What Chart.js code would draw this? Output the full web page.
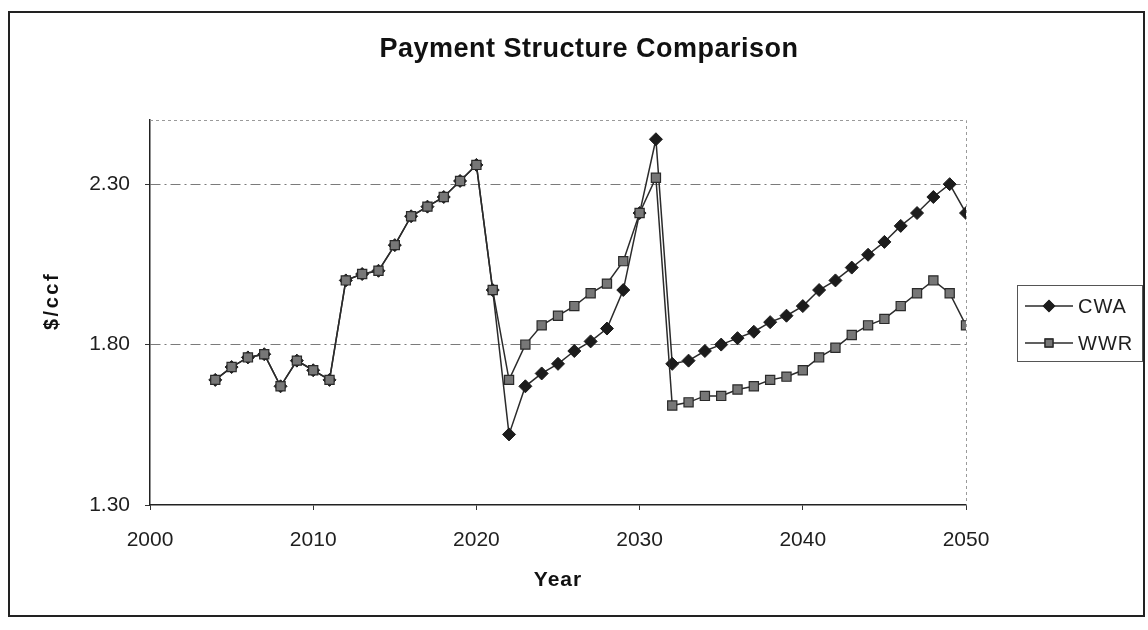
<!DOCTYPE html>
<html>
<head>
<meta charset="utf-8">
<script src="https://cdn.jsdelivr.net/npm/chart.js@4.4.1/dist/chart.umd.min.js"></script>
<style>
  html, body { margin: 0; padding: 0; background: #ffffff; }
  #wrap { width: 1148px; height: 630px; position: relative; }
</style>
</head>
<body>
<div id="wrap"><canvas id="chart" width="1148" height="630"></canvas></div>
<script>
// Years on the horizontal axis
const years = [
  2004, 2005, 2006, 2007, 2008, 2009, 2010, 2011, 2012, 2013,
  2014, 2015, 2016, 2017, 2018, 2019, 2020, 2021, 2022, 2023,
  2024, 2025, 2026, 2027, 2028, 2029, 2030, 2031, 2032, 2033,
  2034, 2035, 2036, 2037, 2038, 2039, 2040, 2041, 2042, 2043,
  2044, 2045, 2046, 2047, 2048, 2049, 2050
];

// Cost per ccf under each payment structure
const cwa = [
  1.69, 1.73, 1.76, 1.77, 1.67, 1.75, 1.72, 1.69, 2.00, 2.02,
  2.03, 2.11, 2.20, 2.23, 2.26, 2.31, 2.36, 1.97, 1.52, 1.67,
  1.71, 1.74, 1.78, 1.81, 1.85, 1.97, 2.21, 2.44, 1.74, 1.75,
  1.78, 1.80, 1.82, 1.84, 1.87, 1.89, 1.92, 1.97, 2.00, 2.04,
  2.08, 2.12, 2.17, 2.21, 2.26, 2.30, 2.21
];
const wwr = [
  1.69, 1.73, 1.76, 1.77, 1.67, 1.75, 1.72, 1.69, 2.00, 2.02,
  2.03, 2.11, 2.20, 2.23, 2.26, 2.31, 2.36, 1.97, 1.69, 1.80,
  1.86, 1.89, 1.92, 1.96, 1.99, 2.06, 2.21, 2.32, 1.61, 1.62,
  1.64, 1.64, 1.66, 1.67, 1.69, 1.70, 1.72, 1.76, 1.79, 1.83,
  1.86, 1.88, 1.92, 1.96, 2.00, 1.96, 1.86
];

// Axis ticks
const xTicks = [2000, 2010, 2020, 2030, 2040, 2050];
const yTicks = [1.30, 1.80, 2.30];

const FONT = '"Liberation Sans", Arial, Helvetica, sans-serif';
const INK = '#1e1e1e';

const toPoints = (vals) => years.map((yr, i) => ({ x: yr, y: vals[i] }));

// Frame, headings, dotted plot-area edges and the line-and-marker legend
const decorations = {
  id: 'decorations',
  beforeDatasetsDraw(chart) {
    const { ctx, chartArea: a } = chart;
    ctx.save();
    ctx.strokeStyle = '#9a9a9a';
    ctx.lineWidth = 1;
    ctx.setLineDash([3, 3]);
    ctx.beginPath();
    ctx.moveTo(a.left, a.top + 0.5);
    ctx.lineTo(a.right + 0.5, a.top + 0.5);
    ctx.lineTo(a.right + 0.5, a.bottom);
    ctx.stroke();
    ctx.restore();
  },
  afterDraw(chart) {
    const { ctx, chartArea: a } = chart;
    ctx.save();
    // chart frame
    ctx.strokeStyle = '#222';
    ctx.lineWidth = 2;
    ctx.strokeRect(9, 12, 1135, 604);

    // chart heading
    ctx.fillStyle = '#111';
    ctx.textAlign = 'center';
    ctx.textBaseline = 'alphabetic';
    ctx.font = 'bold 27px ' + FONT;
    ctx.letterSpacing = '0.5px';
    ctx.fillText('Payment Structure Comparison', 589, 57);

    // axis headings
    ctx.font = 'bold 21px ' + FONT;
    ctx.letterSpacing = '1px';
    ctx.textBaseline = 'middle';
    ctx.fillText('Year', (a.left + a.right) / 2, 580);

    ctx.save();
    ctx.translate(52, 302);
    ctx.rotate(-Math.PI / 2);
    ctx.font = 'bold 20px ' + FONT;
    ctx.letterSpacing = '2.5px';
    ctx.fillText('$/ccf', 1, 0);
    ctx.restore();

    // legend box
    const lx = 1017, ly = 285, lw = 125, lh = 76;
    ctx.letterSpacing = '0px';
    ctx.lineWidth = 1;
    ctx.strokeStyle = '#555';
    ctx.strokeRect(lx + 0.5, ly + 0.5, lw, lh);

    const rows = chart.data.datasets.map((ds, i) => ({ ds, y: ly + 21 + i * 37 }));
    rows.forEach(({ ds, y }) => {
      ctx.strokeStyle = ds.borderColor;
      ctx.lineWidth = ds.borderWidth;
      ctx.beginPath();
      ctx.moveTo(lx + 8, y);
      ctx.lineTo(lx + 56, y);
      ctx.stroke();
      Chart.helpers.drawPoint(ctx, {
        pointStyle: ds.pointStyle,
        radius: ds.pointRadius - 1,
        borderWidth: ds.pointBorderWidth,
        rotation: 0
      }, lx + 32, y);
      ctx.fillStyle = ds.pointBackgroundColor;
      ctx.strokeStyle = ds.pointBorderColor;
      ctx.lineWidth = ds.pointBorderWidth;
      ctx.fill();
      ctx.stroke();
      ctx.fillStyle = INK;
      ctx.font = '20px ' + FONT;
      ctx.letterSpacing = '1px';
      ctx.textBaseline = 'middle';
      ctx.textAlign = 'left';
      ctx.fillText(ds.label, lx + 61, y + 1);
    });
    ctx.restore();
  }
};

new Chart(document.getElementById('chart'), {
  type: 'line',
  data: {
    datasets: [
      {
        label: 'CWA',
        data: toPoints(cwa),
        borderColor: '#2b2b2b',
        borderWidth: 1.5,
        pointStyle: 'rectRot',
        pointRadius: 6.5,
        pointBackgroundColor: '#1c1c1c',
        pointBorderColor: '#1c1c1c',
        pointBorderWidth: 1,
        tension: 0,
        order: 2
      },
      {
        label: 'WWR',
        data: toPoints(wwr),
        borderColor: '#2b2b2b',
        borderWidth: 1.5,
        pointStyle: 'rect',
        pointRadius: 6.5,
        pointBackgroundColor: '#777777',
        pointBorderColor: '#2a2a2a',
        pointBorderWidth: 1.2,
        tension: 0,
        order: 1
      }
    ]
  },
  options: {
    responsive: false,
    animation: false,
    devicePixelRatio: 1,
    layout: { padding: { top: 120, left: 20, right: 182, bottom: 14 } },
    plugins: {
      legend: { display: false },
      tooltip: { enabled: false },
      title: { display: false }
    },
    scales: {
      x: {
        type: 'linear',
        min: 2000,
        max: 2050,
        afterBuildTicks: (scale) => { scale.ticks = xTicks.map(v => ({ value: v })); },
        afterFit: (scale) => { scale.height = 111; },
        ticks: {
          color: INK,
          font: { family: FONT, size: 21 },
          padding: 18,
          maxRotation: 0,
          callback: (v) => String(v)
        },
        grid: {
          drawOnChartArea: false,
          drawTicks: true,
          tickLength: 5,
          tickColor: '#333'
        },
        border: { display: true, color: '#222', width: 1.5 },
        title: { display: false }
      },
      y: {
        type: 'linear',
        min: 1.3,
        max: 2.5,
        afterBuildTicks: (scale) => { scale.ticks = yTicks.map(v => ({ value: v })); },
        afterFit: (scale) => { scale.width = 130; },
        ticks: {
          color: INK,
          font: { family: FONT, size: 21 },
          padding: 15,
          callback: (v) => Number(v).toFixed(2)
        },
        grid: {
          color: (ctx) => (ctx.tick && ctx.tick.value <= 1.3 ? 'rgba(0,0,0,0)' : '#7a7a7a'),
          lineWidth: 1,
          drawTicks: true,
          tickLength: 5,
          tickColor: '#333',
          tickBorderDash: []
        },
        border: { display: true, color: '#222', width: 1.5, dash: [10, 4, 2, 4] },
        title: { display: false }
      }
    }
  },
  plugins: [decorations]
});
</script>
</body>
</html>
